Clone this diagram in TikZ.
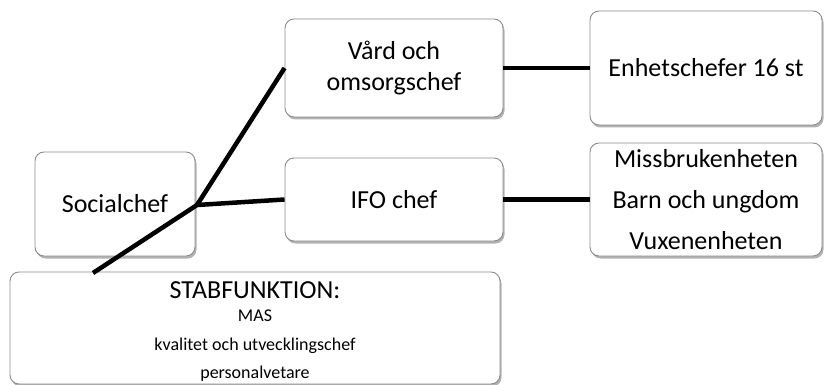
\documentclass[tikz,border=0pt]{standalone}
\usepackage{fontspec}
\setmainfont{Carlito}
\usetikzlibrary{positioning,shadows}
\tikzstyle{orgChart} = [x = 1pt, y = -1pt]
\definecolor{boxBorder}{RGB}{140,140,140}
\tikzstyle{orgBox} = [draw=boxBorder, fill=white, rounded corners = 9pt, line width = .9pt, align = center, inner sep = 0pt, font=\fontsize{26}{31}\selectfont, drop shadow = {shadow xshift = 1.5pt, shadow yshift = -2.5pt, opacity = .3, fill = black}]
\tikzstyle{orgLine} = [line width = 4.5pt, black]
\newcommand{\bigLine}{\fontsize{26}{31}\selectfont}
\newcommand{\smallLine}{\fontsize{18}{20}\selectfont}

\begin{document}
\begin{tikzpicture}[orgChart]
  \useasboundingbox (0,0) rectangle (825,385);
  % boxes
  \node [orgBox, minimum width = 160pt, minimum height = 104pt] (social) at (115,204) {Socialchef};
  \node [orgBox, minimum width = 218pt, minimum height = 98pt] (vard) at (394,68) {V\aa rd och\\omsorgschef};
  \node [orgBox, minimum width = 218pt, minimum height = 83pt] (ifo) at (394,199.5) {IFO chef};
  \node [orgBox, minimum width = 232pt, minimum height = 114pt] (enhet) at (706,68) {Enhetschefer 16 st};
  \node [orgBox, minimum width = 232pt, minimum height = 113pt] (ifoUnits) at (706,199.5)
    {Missbrukenheten\\[10pt]Barn och ungdom\\[10pt]Vuxenenheten};
  \node [orgBox, minimum width = 490pt, minimum height = 112pt] (stab) at (255,328)
    {\rule{0pt}{24pt}\bigLine STABFUNKTION:\\[-8pt]\smallLine MAS\\[-2pt]\smallLine kvalitet och utvecklingschef\\[-3pt]\smallLine personalvetare};
  % connectors
  \coordinate (junc) at (197,205);
  \coordinate (stabTop) at (93,273);
  \draw [orgLine] (junc) -- (vard.west);
  \draw [orgLine] (junc) -- (ifo.west);
  \draw [orgLine] (junc) -- (stabTop);
  \draw [orgLine] (vard.east) -- (enhet.west);
  \draw [orgLine] (ifo.east) -- (ifoUnits.west);
\end{tikzpicture}
\end{document}
